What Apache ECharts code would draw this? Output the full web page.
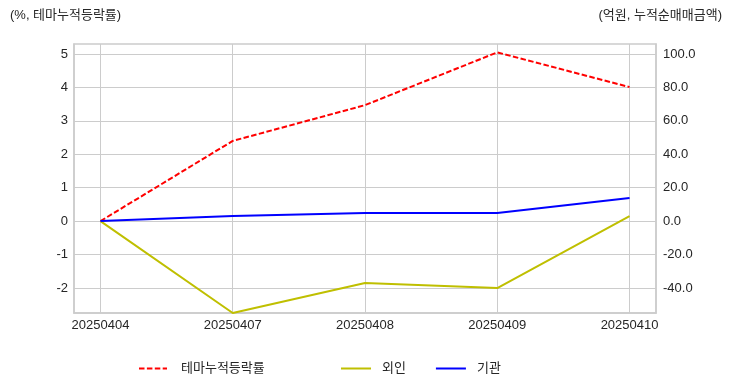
<!DOCTYPE html>
<html><head><meta charset="utf-8">
<script src="https://cdn.jsdelivr.net/npm/echarts@6/dist/echarts.min.js"></script>
<style>html,body{margin:0;padding:0;background:#fff}#c{width:732px;height:392px}</style>
</head><body><div id="c"></div>
<script>
const dates = ['20250404','20250407','20250408','20250409','20250410'];
const themeRate = [0, 2.40, 3.47, 5.05, 4.01];
const foreignNet = [0, -55.0, -37.1, -40.1, 3.0];
const instNet = [0, 3.0, 4.8, 4.8, 13.8];
const leftTicks = [-2,-1,0,1,2,3,4,5];
const rightTicks = [-40,-20,0,20,40,60,80,100];
const xTicks = [0,1,2,3,4];

const FONT = "'Liberation Sans','Noto Sans CJK KR',sans-serif";
const TXT = '#262626';
const GRID = '#cccccc';
const chart = echarts.init(document.getElementById('c'), null, {renderer:'canvas'});
const toPairs = arr => arr.map((v,i)=>[i,v]);
const legendItemStyle = {color:'transparent', borderColor:'transparent', borderWidth:0};
chart.setOption({
  animation:false,
  textStyle:{fontFamily:FONT},
  title:[
    {text:'(%, 테마누적등락률)', left:5, top:4, textStyle:{fontSize:13, fontWeight:'normal', color:TXT, fontFamily:FONT}},
    {text:'(억원, 누적순매매금액)', right:5, top:4, textStyle:{fontSize:13, fontWeight:'normal', color:TXT, fontFamily:FONT}}
  ],
  grid:{left:74, right:76, top:44, bottom:79, show:true, borderColor:GRID, borderWidth:1.5},
  legend:[
    {data:['테마누적등락률'], left:138, top:362, padding:0, itemWidth:28, itemHeight:14, itemStyle:legendItemStyle,
     textStyle:{fontSize:13, color:TXT, fontFamily:FONT, padding:[0,0,0,9]}},
    {data:['외인','기관'], left:340, top:362, padding:0, itemWidth:30, itemHeight:14, itemGap:29, itemStyle:legendItemStyle,
     textStyle:{fontSize:13, color:TXT, fontFamily:FONT, padding:[0,0,0,6]}}
  ],
  xAxis:{type:'value', min:-0.2, max:4.2,
    axisLine:{show:true, onZero:false, lineStyle:{color:GRID, width:1.5}},
    axisTick:{show:false, customValues:xTicks},
    splitLine:{show:true, lineStyle:{color:GRID, width:1}},
    axisLabel:{customValues:xTicks, formatter:v=>dates[v], fontSize:13, color:TXT, margin:6, fontFamily:FONT}
  },
  yAxis:[
    {type:'value', min:-2.75, max:5.3, position:'left',
     axisLine:{show:true, onZero:false, lineStyle:{color:GRID, width:1.5}},
     axisTick:{show:false, customValues:leftTicks},
     splitLine:{show:true, lineStyle:{color:GRID, width:1}},
     axisLabel:{customValues:leftTicks, formatter:v=>String(v), fontSize:13, color:TXT, margin:6, fontFamily:FONT}
    },
    {type:'value', min:-55, max:106, position:'right',
     axisLine:{show:true, onZero:false, lineStyle:{color:GRID, width:1.5}},
     axisTick:{show:false, customValues:rightTicks},
     splitLine:{show:false},
     axisLabel:{customValues:rightTicks, formatter:v=>v.toFixed(1), fontSize:13, color:TXT, margin:7, fontFamily:FONT}
    }
  ],
  series:[
    {name:'테마누적등락률', type:'line', yAxisIndex:0, data:toPairs(themeRate), symbol:'none',
     itemStyle:{color:'#ff0000'}, lineStyle:{color:'#ff0000', width:2, type:[5.5,2.4]}},
    {name:'외인', type:'line', yAxisIndex:1, data:toPairs(foreignNet), symbol:'none',
     itemStyle:{color:'#bfbf00'}, lineStyle:{color:'#bfbf00', width:2}},
    {name:'기관', type:'line', yAxisIndex:1, data:toPairs(instNet), symbol:'none',
     itemStyle:{color:'#0000ff'}, lineStyle:{color:'#0000ff', width:2}}
  ]
});
</script></body></html>
